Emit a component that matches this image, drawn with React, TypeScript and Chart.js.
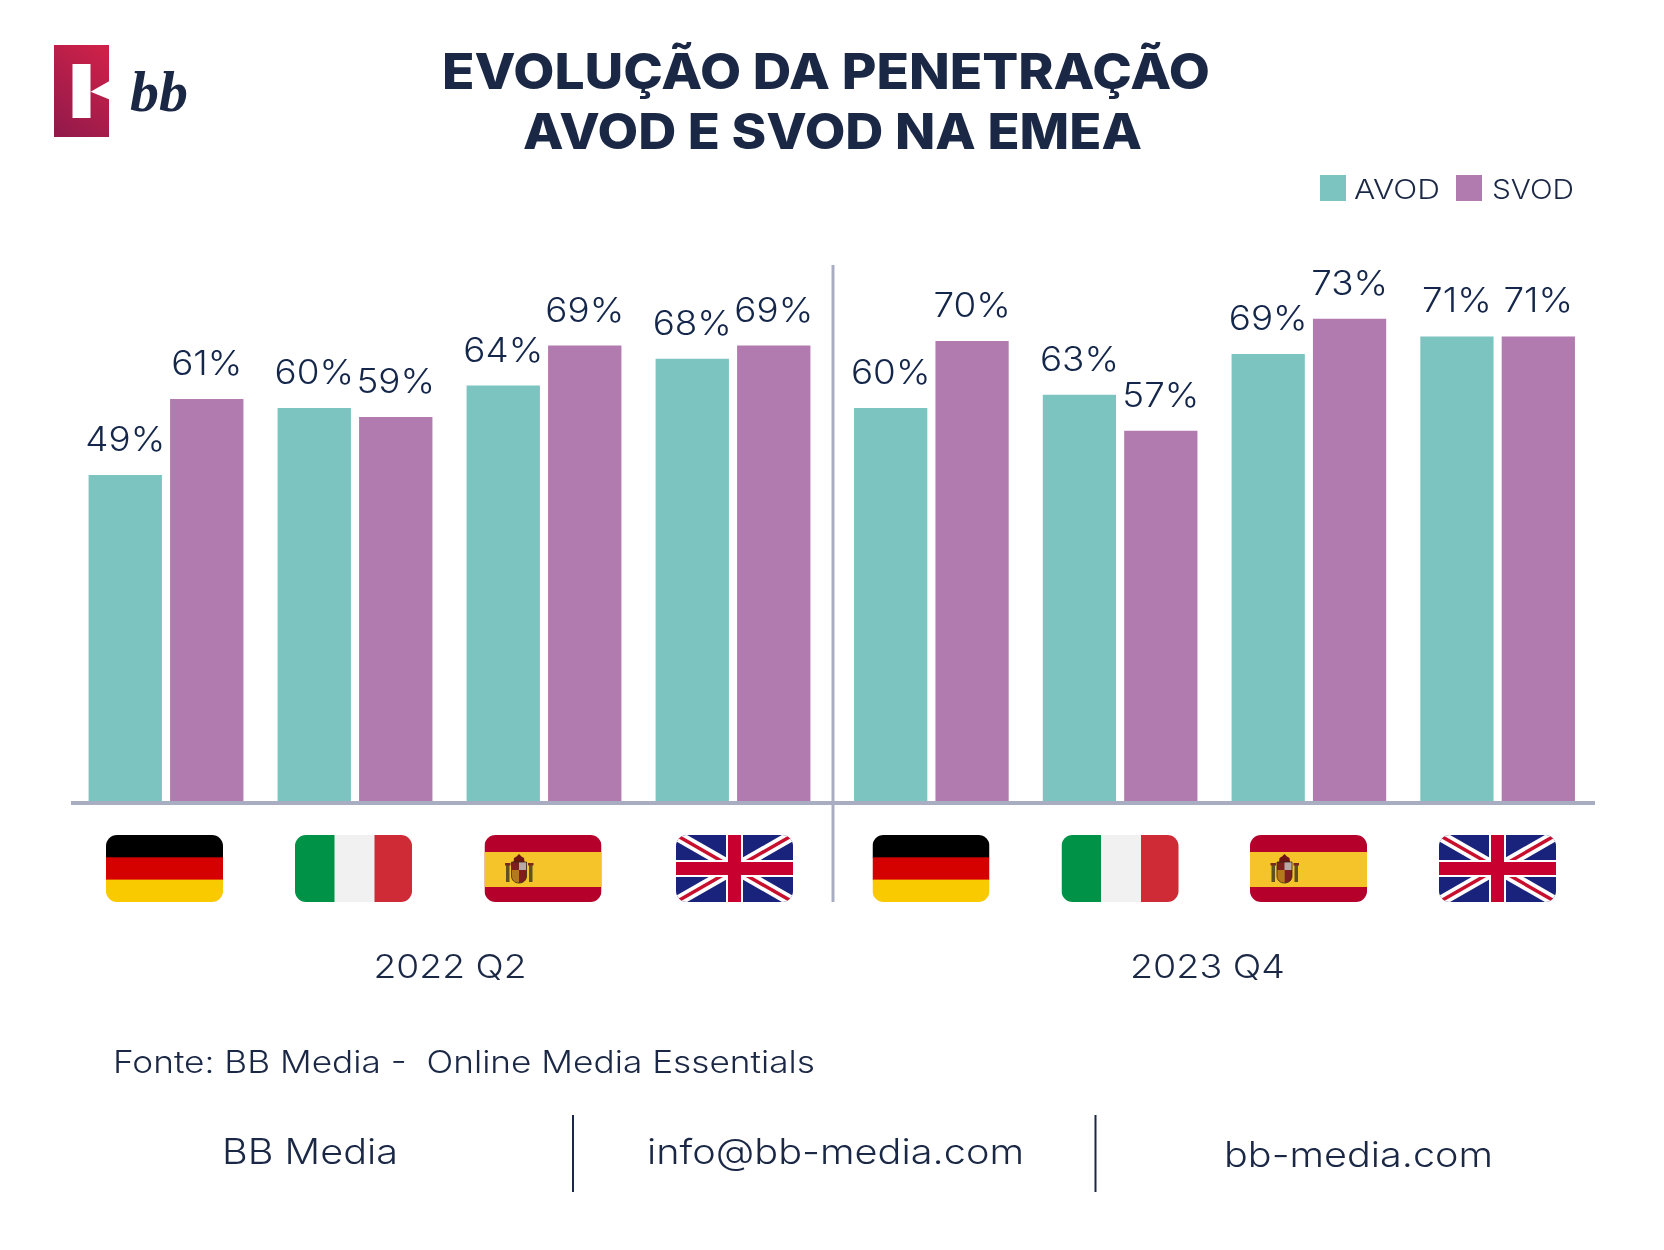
import React, { useEffect, useRef } from "react";
import { Chart, registerables } from "chart.js";

Chart.register(...registerables);

const countries = ["Alemanha", "Itália", "Espanha", "Reino Unido"];
const seriesNames = ["AVOD", "SVOD"];
const periods = ["2022 Q2", "2023 Q4"];

// Values measured from bar heights; the printed labels are rounded figures
const avod2022 = [49.85, 60.08, 63.5, 67.6];
const svod2022 = [61.45, 58.7, 69.6, 69.6];
const avod2023 = [60.08, 62.1, 68.3, 71.0];
const svod2023 = [70.3, 56.6, 73.7, 71.0];

const avod2022Labels = ["49%", "60%", "64%", "68%"];
const svod2022Labels = ["61%", "59%", "69%", "69%"];
const avod2023Labels = ["60%", "63%", "69%", "71%"];
const svod2023Labels = ["70%", "57%", "73%", "71%"];

const TEAL = "#7CC4C0";
const PURPLE = "#B27BB0";
const AXIS = "#A9ADC2";
const INK = "#1B2845";
const LABEL_INK = "#14264A";
const FONT = "Inter, sans-serif";

const valueLabelPlugin = {
  id: "valueLabels",
  afterDatasetsDraw(chart: any) {
    const { ctx } = chart;
    const labelSets = chart.options.plugins.valueLabels.labels;
    chart.data.datasets.forEach((_: any, di: number) => {
      chart.getDatasetMeta(di).data.forEach((bar: any, i: number) => {
        ctx.save();
        ctx.font = `300 33.5px ${FONT}`;
        ctx.fillStyle = LABEL_INK;
        ctx.textAlign = "center";
        ctx.textBaseline = "alphabetic";
        ctx.translate(bar.x, bar.y - 24);
        ctx.scale(1.1, 1);
        ctx.fillText(labelSets[di][i], 0, 0);
        ctx.restore();
      });
    });
  },
};

function makeChart(canvas: HTMLCanvasElement, a: number[], s: number[], aLabels: string[], sLabels: string[], padLeft: number, padRight: number) {
  return new Chart(canvas, {
    type: "bar",
    data: {
      labels: countries,
      datasets: [
        { label: seriesNames[0], data: a, backgroundColor: TEAL },
        { label: seriesNames[1], data: s, backgroundColor: PURPLE },
      ],
    },
    options: {
      responsive: false,
      animation: false,
      layout: { padding: { left: padLeft, right: padRight, top: 265, bottom: 48.5 } },
      datasets: { bar: { barPercentage: 0.9, categoryPercentage: 0.8624 } },
      scales: {
        x: { display: false },
        y: { display: false, min: 0, max: 81.9 },
      },
      plugins: {
        legend: { display: false },
        title: { display: false },
        tooltip: { enabled: false },
        valueLabels: { labels: [aLabels, sLabels] },
      } as any,
    },
    plugins: [valueLabelPlugin],
  } as any);
}

function Germany() {
  return (
    <>
      <rect width="117" height="23" y="0" fill="#000000" />
      <rect width="117" height="23" y="22.3" fill="#D50000" />
      <rect width="117" height="23" y="44.6" fill="#FACA00" />
    </>
  );
}
function Italy() {
  return (
    <>
      <rect width="40" height="67" x="0" fill="#009246" />
      <rect width="41" height="67" x="39.5" fill="#F1F1F1" />
      <rect width="38" height="67" x="79.5" fill="#CE2B37" />
    </>
  );
}
function Spain() {
  return (
    <>
      <rect width="117" height="67" fill="#B4002A" />
      <rect width="117" height="35" y="17" fill="#F5C42A" />
      <g>
        <rect x="21.5" y="30" width="3.5" height="17" fill="#5E5220" />
        <rect x="44.5" y="30" width="3.5" height="17" fill="#5E5220" />
        <rect x="20.5" y="28" width="5.5" height="2.5" fill="#7A2A1A" />
        <rect x="43.5" y="28" width="5.5" height="2.5" fill="#7A2A1A" />
        <path d="M29 27 L29.5 23 L32 21.5 L34.5 19 L37 21.5 L39.5 23 L40 27 Z" fill="#6E1414" />
        <rect x="27" y="27" width="15" height="8" fill="#7E1F1F" />
        <rect x="34.5" y="27" width="7.5" height="8" fill="#B9A8A8" />
        <path d="M27 35 H34.5 V48 C30 48 27 45 27 41 Z" fill="#B27A1C" />
        <path d="M34.5 35 H42 V41 C42 45 39 48 34.5 48 Z" fill="#7E1F1F" />
        <path d="M27 27 H42 V41 C42 45 39 48 34.5 48 C30 48 27 45 27 41 Z" fill="none" stroke="#3A2A10" strokeWidth="0.8" />
      </g>
    </>
  );
}
function UK() {
  return (
    <>
      <rect width="117" height="67" fill="#1A237B" />
      <line x1="0" y1="0" x2="117" y2="67" stroke="#FFFFFF" strokeWidth="11" />
      <line x1="117" y1="0" x2="0" y2="67" stroke="#FFFFFF" strokeWidth="11" />
      <line x1="0" y1="0" x2="117" y2="67" stroke="#C8102E" strokeWidth="3.5" />
      <line x1="117" y1="0" x2="0" y2="67" stroke="#C8102E" strokeWidth="3.5" />
      <rect x="50" width="17" height="67" fill="#FFFFFF" />
      <rect y="25" width="117" height="17" fill="#FFFFFF" />
      <rect x="52" width="13" height="67" fill="#C8002F" />
      <rect y="27" width="117" height="13" fill="#C8002F" />
    </>
  );
}

const flagParts = [Germany, Italy, Spain, UK];
const flagLefts = [106, 295, 484.5, 676, 872.5, 1061.5, 1250, 1439];

type TxtProps = { x: number; y: number; size: number; len: number; w?: number; children: any };
function Txt({ x, y, size, len, w = 300, children }: TxtProps) {
  return (
    <text x={x} y={y} fontSize={size} fontWeight={w} textLength={len} lengthAdjust="spacingAndGlyphs" fill={INK} fontFamily={FONT} style={{ whiteSpace: "pre" }}>
      {children}
    </text>
  );
}

export default function App() {
  const leftRef = useRef<HTMLCanvasElement>(null);
  const rightRef = useRef<HTMLCanvasElement>(null);

  useEffect(() => {
    const left = makeChart(leftRef.current!, avod2022, svod2022, avod2022Labels, svod2022Labels, 71.5, 4.5);
    const right = makeChart(rightRef.current!, avod2023, svod2023, avod2023Labels, svod2023Labels, 5, 72);
    return () => {
      left.destroy();
      right.destroy();
    };
  }, []);

  return (
    <div style={{ position: "absolute", left: 0, top: 0, width: 1664, height: 1250, background: "#FFFFFF", overflow: "hidden" }}>
      <canvas ref={leftRef} width={832} height={850} style={{ position: "absolute", left: 0, top: 0, width: 832, height: 850 }} />
      <canvas ref={rightRef} width={832} height={850} style={{ position: "absolute", left: 832, top: 0, width: 832, height: 850 }} />
      <svg width={1664} height={1250} style={{ position: "absolute", left: 0, top: 0 }}>
        <defs>
          <linearGradient id="logoGrad" x1="0.75" y1="0" x2="0.25" y2="1">
            <stop offset="0" stopColor="#CC2149" />
            <stop offset="1" stopColor="#951A4B" />
          </linearGradient>
          <clipPath id="flagClip">
            <rect width="117" height="67" rx="11" ry="11" />
          </clipPath>
        </defs>

        {/* logo */}
        <rect x="54" y="45" width="55" height="92" fill="url(#logoGrad)" />
        <rect x="72.5" y="64" width="18" height="54" fill="#FFFFFF" />
        <path d="M109.5 81 L91 91.5 L90 91.5 L109.5 99.5 Z" fill="#FFFFFF" />
        <text x="130" y="111" fontSize="58" fontWeight="700" fontStyle="italic" fontFamily="'Liberation Serif', serif" fill={INK}>
          bb
        </text>

        {/* title */}
        <Txt x={442} y={89} size={49} w={800} len={768}>EVOLUÇÃO DA PENETRAÇÃO</Txt>
        <Txt x={523} y={149} size={49} w={800} len={619}>AVOD E SVOD NA EMEA</Txt>

        {/* legend */}
        <rect x="1320" y="175" width="26" height="26" fill={TEAL} />
        <Txt x={1354} y={199} size={27} len={86}>{seriesNames[0]}</Txt>
        <rect x="1456" y="175" width="26" height="26" fill={PURPLE} />
        <Txt x={1492} y={199} size={27} len={82}>{seriesNames[1]}</Txt>

        {/* axes */}
        <rect x="71" y="801" width="1524" height="4" fill={AXIS} />
        <rect x="831.5" y="265" width="3" height="637" fill={AXIS} />

        {/* flags */}
        {flagLefts.map((fx, i) => {
          const F = flagParts[i % 4];
          return (
            <g key={i} transform={`translate(${fx} 835)`} clipPath="url(#flagClip)">
              <F />
            </g>
          );
        })}

        {/* periods */}
        <Txt x={373.5} y={978} size={33} len={153}>{periods[0]}</Txt>
        <Txt x={1130} y={978} size={33} len={155}>{periods[1]}</Txt>

        {/* footer */}
        <Txt x={113} y={1073} size={31} len={702}>Fonte: BB Media -  Online Media Essentials</Txt>
        <Txt x={222} y={1164} size={35} len={176}>BB Media</Txt>
        <rect x="572" y="1115" width="2" height="77" fill={INK} />
        <Txt x={647} y={1164} size={35} len={377}>info@bb-media.com</Txt>
        <rect x="1094.5" y="1115" width="2" height="77" fill={INK} />
        <Txt x={1224} y={1167} size={35} len={269}>bb-media.com</Txt>
      </svg>
    </div>
  );
}
